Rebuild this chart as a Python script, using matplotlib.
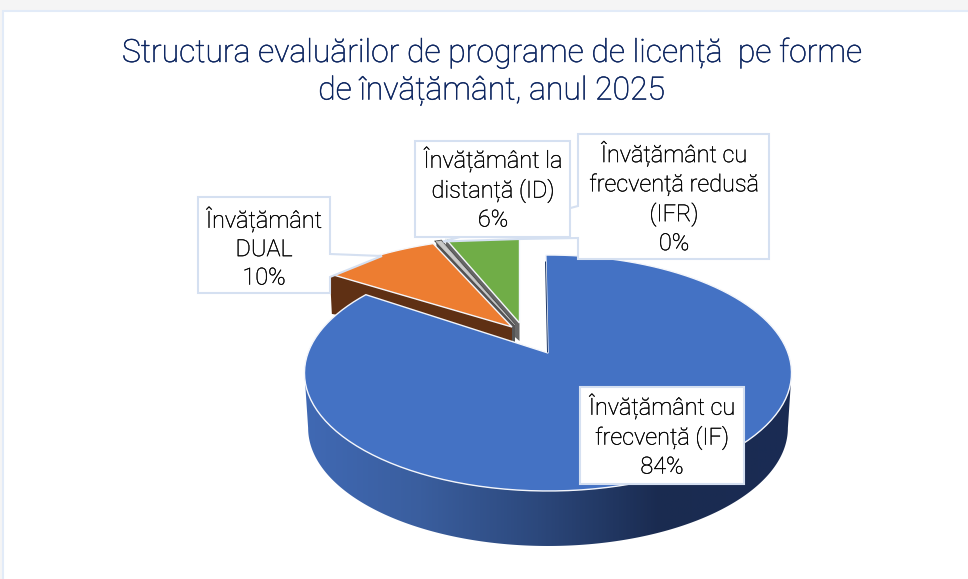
import numpy as np
import matplotlib
matplotlib.use("Agg")
import matplotlib.pyplot as plt
import matplotlib.patheffects as pe
from matplotlib.colors import LinearSegmentedColormap
from matplotlib.patches import Polygon, Rectangle

titlu = ["Structura evaluărilor de programe de licență  pe forme",
         "de învățământ, anul 2025"]
forme = ["Învățământ cu\nfrecvență (IF)", "Învățământ\nDUAL",
         "Învățământ cu\nfrecvență redusă\n(IFR)", "Învățământ la\ndistanță (ID)"]
etichete_proc = ["84%", "10%", "0%", "6%"]
valori = [84.4, 9.4, 0.4, 5.8]
culori = ["#4472c4", "#ed7d31", "#a5a5a5", "#70ad47"]
pereti = ["#1f3864", "#5f3014", "#555555", "#666666"]

K = 0.1695     # perspectiva
RX = 240
RY = 114.6
ADANCIME = 55

# varful fiecarei felii (pie explodat) si scara verticala
varfuri = [(548, 353), (512, 327), (515, 325), (519.5, 323)]
scara_y = [1.0, 0.91, 0.91, 0.91]

fig = plt.figure(figsize=(9.68, 5.79), dpi=100, facecolor="#f5f5f5")
ax = fig.add_axes([0, 0, 1, 1])
ax.axis("off")

ax.add_patch(Rectangle((3, 10.5), 975, 580, fc="white", ec="#e2ebf8", lw=1.5, zorder=0))


def rim(teta, varf, sy=1.0, rx=RX, ry=RY):
    # teta in grade, de la ora 12 in sensul acelor de ceasornic
    t = np.radians(teta)
    numitor = 1 + K * np.cos(t)
    return (varf[0] + rx * np.sin(t) / numitor,
            varf[1] - sy * ry * np.cos(t) / numitor)


unghiuri = np.concatenate([[0], np.cumsum(valori)]) * 3.6

# peretele exterior al feliei mari, cu degrade (intre tangentele laterale)
tangenta = np.degrees(np.arccos(-K))
tete = np.linspace(tangenta, 360 - tangenta, 300)
xs, ys = rim(tete, varfuri[0])
xj, yj = rim(tete[::-1], (varfuri[0][0], varfuri[0][1] + ADANCIME), rx=RX * 0.985)
contur = Polygon(list(zip(xs, ys)) + list(zip(xj, yj)), closed=True, fc="none", ec="none",
                 transform=ax.transData)
ax.add_patch(contur)
degrade = LinearSegmentedColormap.from_list(
    "perete", [(0, "#4069b4"), (0.24, "#3a5e9e"), (0.48, "#2c487c"), (0.73, "#1a2b50"), (1, "#1a2c54")])
img = ax.imshow(np.linspace(0, 1, 400)[None, :], extent=(303, 793, 600, 300), aspect="auto",
                cmap=degrade, zorder=1)
img.set_clip_path(contur)

ax.set_xlim(0, 968)
ax.set_ylim(579, 0)

# peretii radiali ai feliilor mici
for i in [1, 2, 3]:
    x0, y0 = rim(unghiuri[i], varfuri[i], scara_y[i])
    vx, vy = varfuri[i]
    ax.add_patch(Polygon([(x0, y0), (vx, vy), (vx, vy + 18), (x0 + 2, y0 + 40)], closed=True,
                         fc=pereti[i], ec="none", zorder=2 + (3 - i) * 0.1))

# fetele feliilor
for i in [3, 2, 1, 0]:
    inceput = unghiuri[i] - (0.6 if i == 0 else 0)
    tt = np.linspace(inceput, unghiuri[i + 1], 120)
    xr, yr = rim(tt, varfuri[i], scara_y[i])
    pts = [varfuri[i]] + list(zip(xr, yr))
    if i == 2:
        ax.add_patch(Polygon(pts, closed=True, fc="#4d4d4d", ec="#4d4d4d", lw=1.6, zorder=3))
        ax.add_patch(Polygon(pts, closed=True, fc="#c9c9c9", ec="#c9c9c9", lw=0.4, zorder=3.1))
    else:
        ax.add_patch(Polygon(pts, closed=True, fc=culori[i], ec="#f4f6fb", lw=1.0,
                             joinstyle="miter", zorder=3 + (4 - i) * 0.1))

# muchia inchisa a feliei mari
ax.plot([545.5, 547.5], [262, 352], color=pereti[0], lw=0.7, zorder=3.6)

# casetele cu etichete (callout)
chenar = "#d5e0f1"
casete = [
    ([(580, 387), (744, 387), (744, 484), (580, 484)], (662, 436)),
    ([(198, 197), (330, 197), (330, 254), (382, 256), (330, 277), (330, 293), (198, 293)], (264, 248)),
    ([(578, 134), (769, 134), (769, 259), (578, 259), (578, 238), (520, 239), (443, 241.5), (578, 206)], (674, 198)),
    ([(415, 141), (570, 141), (570, 237), (415, 237)], (493, 189)),
]
for i in [0, 1, 2, 3]:
    pts, (tx, ty) = casete[i]
    ax.add_patch(Polygon(pts, closed=True, fc="white", ec=chenar, lw=1.5,
                         joinstyle="miter", zorder=5 + i * 0.1))
    ax.text(tx, ty, forme[i] + "\n" + etichete_proc[i], ha="center", va="center",
            fontsize=16.9, color="#000000", family="Roboto", weight="light",
            linespacing=1.3, zorder=6,
            path_effects=[pe.withStroke(linewidth=0.25, foreground="#000000")])

for rand, y in zip(titlu, [53, 91]):
    ax.text(492, y, rand, ha="center", va="center", fontsize=23, color="#0c2560",
            family="Roboto", weight="light", zorder=6,
            path_effects=[pe.withStroke(linewidth=0.35, foreground="#0c2560")])

fig.savefig("out.png", dpi=100, facecolor=fig.get_facecolor())
